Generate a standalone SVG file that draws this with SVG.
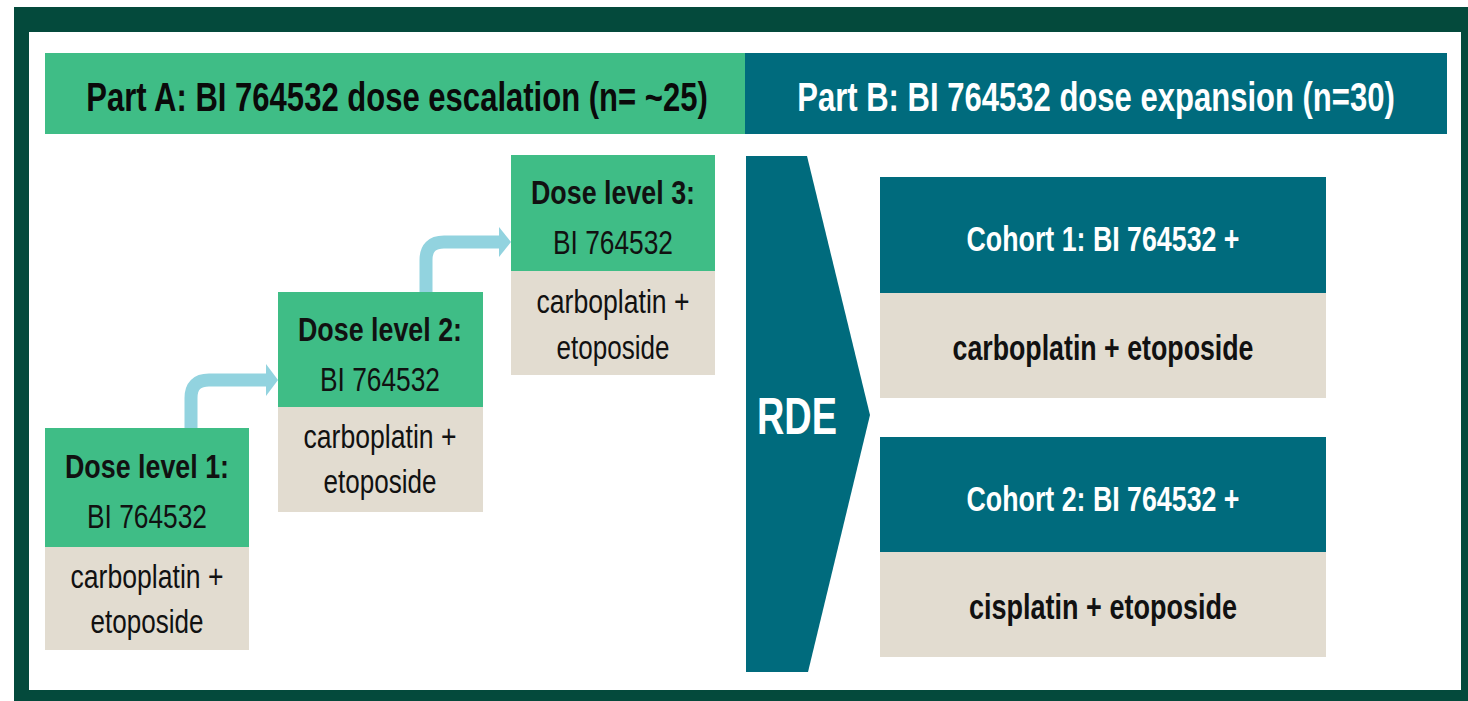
<svg xmlns="http://www.w3.org/2000/svg" width="1468" height="701" viewBox="0 0 1468 701">
<style>
text{font-family:"Liberation Sans",Arial,sans-serif;text-anchor:middle}
.g{fill:#3fbd86}
.be{fill:#e2dcd0}
.tl{fill:#006b7d}
.hd{font-size:41px;font-weight:bold}
.bx{font-size:33px;fill:#111}
.b{font-weight:bold}
.ch{font-size:35px;font-weight:bold}
.w{fill:#fff}
.arr{fill:none;stroke:#92d3df;stroke-width:13}
.ah{fill:#92d3df}
</style>
<rect width="1468" height="701" fill="#fff"/>
<rect x="14" y="7" width="1454" height="694" fill="#044a3c"/>
<rect x="29" y="32" width="1432" height="658" fill="#fff"/>
<g id="headerA"><rect x="45" y="53" width="700" height="81" class="g"/>
<text transform="translate(397,111) scale(0.8,1)" class="hd" fill="#0a0a0a" textLength="777" lengthAdjust="spacingAndGlyphs">Part A: BI 764532 dose escalation (n= ~25)</text></g>
<g id="headerB"><rect x="745" y="53" width="702" height="81" class="tl"/>
<text transform="translate(1096,111) scale(0.8,1)" class="hd w" textLength="747" lengthAdjust="spacingAndGlyphs">Part B: BI 764532 dose expansion (n=30)</text></g>
<g id="connectors">
<path class="arr" d="M191,428 V398 Q191,380 209,380 H268"/>
<polygon class="ah" points="266,364 278,380 266,396"/>
<path class="arr" d="M426,292 V260 Q426,242 444,242 H501"/>
<polygon class="ah" points="499,227 511,242 499,257"/>
</g>
<g id="dose1"><rect x="45" y="428" width="204" height="119" class="g"/><rect x="45" y="547" width="204" height="103" class="be"/>
<text x="147" y="478" class="bx b" textLength="164" lengthAdjust="spacingAndGlyphs">Dose level 1:</text>
<text x="147" y="528" class="bx" textLength="120" lengthAdjust="spacingAndGlyphs">BI 764532</text>
<text x="147" y="588" class="bx" textLength="153" lengthAdjust="spacingAndGlyphs">carboplatin +</text>
<text x="147" y="633" class="bx" textLength="113" lengthAdjust="spacingAndGlyphs">etoposide</text></g>
<g id="dose2"><rect x="278" y="292" width="205" height="115" class="g"/><rect x="278" y="407" width="205" height="105" class="be"/>
<text x="380" y="341" class="bx b" textLength="164" lengthAdjust="spacingAndGlyphs">Dose level 2:</text>
<text x="380" y="391" class="bx" textLength="120" lengthAdjust="spacingAndGlyphs">BI 764532</text>
<text x="380" y="448" class="bx" textLength="153" lengthAdjust="spacingAndGlyphs">carboplatin +</text>
<text x="380" y="493" class="bx" textLength="113" lengthAdjust="spacingAndGlyphs">etoposide</text></g>
<g id="dose3"><rect x="511" y="155" width="204" height="116" class="g"/><rect x="511" y="271" width="204" height="104" class="be"/>
<text x="613" y="204" class="bx b" textLength="164" lengthAdjust="spacingAndGlyphs">Dose level 3:</text>
<text x="613" y="254" class="bx" textLength="120" lengthAdjust="spacingAndGlyphs">BI 764532</text>
<text x="613" y="313" class="bx" textLength="153" lengthAdjust="spacingAndGlyphs">carboplatin +</text>
<text x="613" y="359" class="bx" textLength="113" lengthAdjust="spacingAndGlyphs">etoposide</text></g>
<g id="rde"><polygon points="746,156 807,156 870,415 808,672 746,672" class="tl"/>
<text x="797" y="434" font-size="52" font-weight="bold" class="w" textLength="80" lengthAdjust="spacingAndGlyphs">RDE</text></g>
<g id="cohort1"><rect x="880" y="177" width="446" height="116" class="tl"/><rect x="880" y="293" width="446" height="105" class="be"/>
<text x="1103" y="251" class="ch w" textLength="273" lengthAdjust="spacingAndGlyphs">Cohort 1: BI 764532 +</text>
<text x="1103" y="360" class="ch" fill="#111" textLength="301" lengthAdjust="spacingAndGlyphs">carboplatin + etoposide</text></g>
<g id="cohort2"><rect x="880" y="437" width="446" height="115" class="tl"/><rect x="880" y="552" width="446" height="105" class="be"/>
<text x="1103" y="511" class="ch w" textLength="273" lengthAdjust="spacingAndGlyphs">Cohort 2: BI 764532 +</text>
<text x="1103" y="619" class="ch" fill="#111" textLength="268" lengthAdjust="spacingAndGlyphs">cisplatin + etoposide</text></g>
</svg>
